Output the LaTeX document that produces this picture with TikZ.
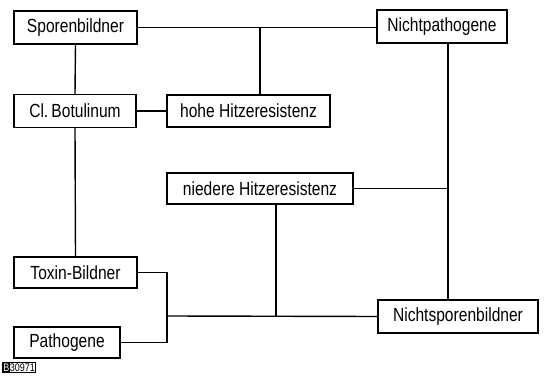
\documentclass[tikz,border=0pt]{standalone}
\usepackage{fontspec}
\setmainfont[FakeStretch=0.82]{Liberation Sans}
\begin{document}
\begin{tikzpicture}[x=1pt,y=-1pt,
  box/.style={draw,line width=1.4pt,inner sep=0pt,font=\fontsize{19}{19}\selectfont},
  link/.style={line width=1.4pt}]
\useasboundingbox (0,0) rectangle (544,377);
\node[box,minimum width=123pt,minimum height=33pt] (spor) at (75.5,27.5) {Sporenbildner};
\node[box,minimum width=122pt,minimum height=33pt] (clb) at (75,111) {Cl.\,Botulinum};
\node[box,minimum width=163pt,minimum height=32pt] (hohe) at (248.5,111) {hohe Hitzeresistenz};
\node[box,minimum width=130pt,minimum height=33pt] (npath) at (442,26.5) {Nichtpathogene};
\node[box,minimum width=186pt,minimum height=31pt] (nied) at (260,188.5) {niedere Hitzeresistenz};
\node[box,minimum width=160pt,minimum height=33pt] (nspor) at (458,316.5) {Nichtsporenbildner};
\node[box,minimum width=123pt,minimum height=31pt] (tox) at (75.5,272.5) {Toxin-Bildner};
\node[box,minimum width=106pt,minimum height=31pt] (path) at (67,342.5) {Pathogene};
\node[anchor=west,inner sep=0.5pt,draw,line width=0.6pt,font=\fontsize{11}{11}\selectfont] (code) at (2,367.5)
  {\fboxsep=0.5pt\colorbox{black}{\textcolor{white}{B}}30971};
\coordinate (j1) at (260,27);
\coordinate (jx) at (448,0);
\coordinate (j3) at (276,316);
\coordinate (j4) at (167,316);
\draw[link] (spor.east) -- (spor.east -| npath.west);
\draw[link] (j1) -- (j1 |- hohe.north);
\draw[link] (spor.south) -- (clb.north);
\draw[link] (clb.east) -- (hohe.west);
\draw[link] (jx |- npath.south) -- (jx |- nspor.north);
\draw[link] (nied.east) -- (nied.east -| jx);
\draw[link] (j3 |- nied.south) -- (j3);
\draw[link] (j4) -- (nspor.west);
\draw[link] (tox.east) -- (tox.east -| j4) -- (path.east -| j4) -- (path.east);
\draw[link] (clb.south) -- (tox.north);
\end{tikzpicture}
\end{document}
